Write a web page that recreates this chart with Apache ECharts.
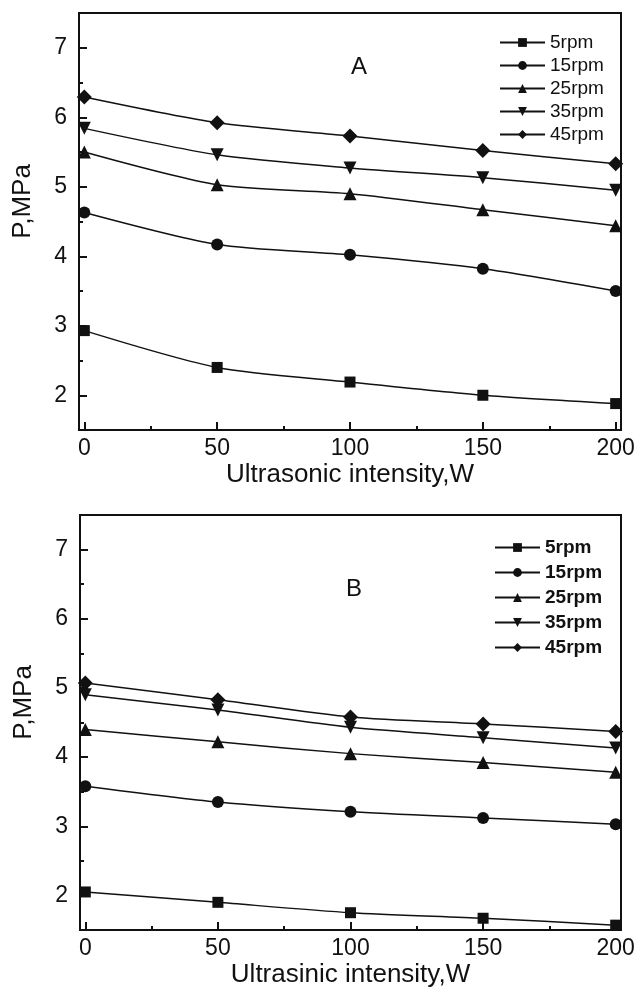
<!DOCTYPE html>
<html>
<head>
<meta charset="utf-8">
<script src="https://cdn.jsdelivr.net/npm/echarts@6/dist/echarts.min.js"></script>
<style>
  html, body { margin: 0; padding: 0; background: #fff; }
  #chart { width: 639px; height: 999px; }
</style>
</head>
<body>
<div id="chart"></div>
<script>
const intensity = [0, 50, 100, 150, 200];
const speeds = ["5rpm", "15rpm", "25rpm", "35rpm", "45rpm"];

// panel A, P (MPa)
const pressA5 = [2.93, 2.40, 2.19, 2.00, 1.88];
const pressA15 = [4.63, 4.17, 4.02, 3.82, 3.50];
const pressA25 = [5.50, 5.03, 4.90, 4.67, 4.44];
const pressA35 = [5.84, 5.46, 5.27, 5.13, 4.95];
const pressA45 = [6.29, 5.92, 5.73, 5.52, 5.33];

// panel B, P (MPa)
const pressB5 = [2.05, 1.90, 1.75, 1.67, 1.57];
const pressB15 = [3.58, 3.35, 3.21, 3.12, 3.03];
const pressB25 = [4.40, 4.22, 4.05, 3.92, 3.78];
const pressB35 = [4.90, 4.68, 4.43, 4.28, 4.13];
const pressB45 = [5.07, 4.83, 4.58, 4.48, 4.37];

const xMajor = [0, 50, 100, 150, 200];
const xMinor = [25, 75, 125, 175];
const yMajor = [2, 3, 4, 5, 6, 7];
const yMinor = [2.5, 3.5, 4.5, 5.5, 6.5];

const symbols = ["rect", "circle", "triangle", "path://M0,0 L10,0 L5,9 Z", "diamond"];
const symbolSizes = [11, 12, 13, 13, 15];
const font = "Liberation Sans, Arial, sans-serif";
const ink = "#111";

const chart = echarts.init(document.getElementById("chart"));

function xAxes(grid, name) {
  const base = { type: "value", gridIndex: grid, position: "bottom", min: -2, max: 202, splitLine: { show: false } };
  return [
    Object.assign({}, base, {
      name: name,
      nameLocation: "middle",
      nameGap: 32,
      nameTextStyle: { fontFamily: font, fontSize: 26, color: ink },
      axisLine: { onZero: false, lineStyle: { color: ink, width: 2 } },
      axisTick: { inside: true, length: 8, customValues: xMajor, lineStyle: { color: ink, width: 2 } },
      axisLabel: { customValues: xMajor, margin: 7, fontFamily: font, fontSize: 23, color: ink }
    }),
    Object.assign({}, base, {
      axisLine: { show: false, onZero: false },
      axisTick: { inside: true, length: 4, customValues: xMinor, lineStyle: { color: ink, width: 2 } },
      axisLabel: { show: false }
    })
  ];
}

function yAxes(grid) {
  const base = { type: "value", gridIndex: grid, position: "left", min: 1.5, max: 7.5, splitLine: { show: false } };
  return [
    Object.assign({}, base, {
      name: "P,MPa",
      nameLocation: "middle",
      nameGap: 43,
      nameTextStyle: { fontFamily: font, fontSize: 26, color: ink, padding: [0, 0, 0, 40] },
      axisLine: { onZero: false, lineStyle: { color: ink, width: 2 } },
      axisTick: { inside: true, length: 8, customValues: yMajor, lineStyle: { color: ink, width: 2 } },
      axisLabel: { customValues: yMajor, margin: 12, fontFamily: font, fontSize: 23, color: ink }
    }),
    Object.assign({}, base, {
      axisLine: { show: false, onZero: false },
      axisTick: { inside: true, length: 4, customValues: yMinor, lineStyle: { color: ink, width: 2 } },
      axisLabel: { show: false }
    })
  ];
}

function makeSeries(lists, axisIndex) {
  return lists.map((vals, i) => ({
    name: speeds[i],
    type: "line",
    xAxisIndex: axisIndex,
    yAxisIndex: axisIndex,
    data: intensity.map((x, k) => [x, vals[k]]),
    smooth: 0.25,
    symbol: symbols[i],
    symbolSize: symbolSizes[i],
    showSymbol: true,
    clip: false,
    lineStyle: { color: ink, width: 1.5 },
    itemStyle: { color: ink },
    emphasis: { disabled: true }
  }));
}

const legendBase = {
  orient: "vertical",
  itemWidth: 45,
  itemHeight: 11,
  itemGap: 4,
  data: speeds,
  selectedMode: false
};

chart.setOption({
  animation: false,
  grid: [
    { left: 79, top: 13, width: 542, height: 417, show: true, borderColor: ink, borderWidth: 2 },
    { left: 80, top: 515, width: 541, height: 415, show: true, borderColor: ink, borderWidth: 2 }
  ],
  title: [
    { text: "A", left: 346, top: 50, textStyle: { fontFamily: font, fontSize: 24, fontWeight: "normal", color: ink } },
    { text: "B", left: 341, top: 572, textStyle: { fontFamily: font, fontSize: 24, fontWeight: "normal", color: ink } }
  ],
  legend: [
    Object.assign({}, legendBase, {
      left: 494, top: 28,
      textStyle: { fontFamily: font, fontSize: 19, color: ink, lineHeight: 19 }
    }),
    Object.assign({}, legendBase, {
      left: 489, top: 533, itemGap: 6,
      textStyle: { fontFamily: font, fontSize: 19, fontWeight: "bold", color: ink, lineHeight: 19 }
    })
  ],
  xAxis: [].concat(xAxes(0, "Ultrasonic intensity,W"), xAxes(1, "Ultrasinic intensity,W")),
  yAxis: [].concat(yAxes(0), yAxes(1)),
  series: [].concat(
    makeSeries([pressA5, pressA15, pressA25, pressA35, pressA45], 0),
    makeSeries([pressB5, pressB15, pressB25, pressB35, pressB45], 2)
  )
});
</script>
</body>
</html>
